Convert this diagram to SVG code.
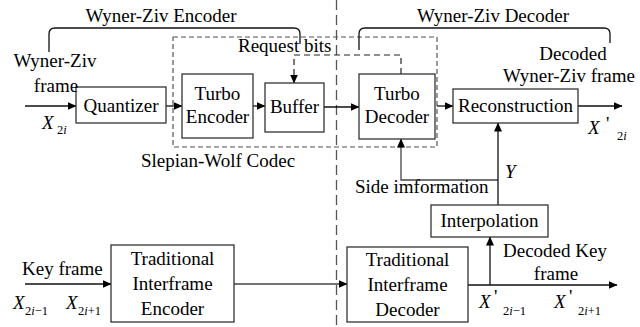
<svg xmlns="http://www.w3.org/2000/svg" width="640" height="327" viewBox="0 0 640 327">
<defs>
<marker id="ah" markerWidth="9" markerHeight="8" refX="8.5" refY="4" orient="auto" markerUnits="userSpaceOnUse">
<path d="M0,0 L9,4 L0,8 Z" fill="#000"/>
</marker>
<style>
text{font-family:'Liberation Serif','Times New Roman','DejaVu Serif',serif;font-size:19px;fill:#000}
.c{text-anchor:middle}
.it{font-style:italic}
.sub{font-size:12.5px}
.box{fill:#fff;stroke:#333;stroke-width:1.3}
.ln{fill:none;stroke:#111;stroke-width:1.3}
.gl{fill:none;stroke:#444;stroke-width:1.3}
.d1{fill:none;stroke:#555;stroke-width:1.2;stroke-dasharray:5,3}
.d2{fill:none;stroke:#222;stroke-width:1.2;stroke-dasharray:6,4}
.d3{fill:none;stroke:#555;stroke-width:1.3;stroke-dasharray:10,5}
</style>
</defs>
<rect width="640" height="327" fill="#fff"/>

<g id="dividers">
<line class="d3" x1="336.5" y1="0" x2="336.5" y2="327"/>
<rect id="slepian-wolf" class="d1" x="173" y="37" width="264" height="110"/>
</g>

<g id="braces">
<path class="ln" d="M49,52 V34 Q49,28 55,28 H294 Q300,28 300,34 V44"/>
<path class="ln" d="M359,50 V34 Q359,28 365,28 H604 Q610,28 610,34 V43"/>
</g>

<g id="connectors">
<line class="ln" x1="25" y1="106" x2="76" y2="106" marker-end="url(#ah)"/>
<line class="ln" x1="166" y1="106" x2="182" y2="106" marker-end="url(#ah)"/>
<line class="ln" x1="253" y1="106" x2="265" y2="106" marker-end="url(#ah)"/>
<line class="ln" x1="324" y1="107" x2="359" y2="107" marker-end="url(#ah)"/>
<line class="ln" x1="437" y1="106" x2="453" y2="106" marker-end="url(#ah)"/>
<line class="ln" x1="578" y1="106" x2="622" y2="106" marker-end="url(#ah)"/>
<path class="d2" d="M401,74 V55 H294 V83" marker-end="url(#ah)"/>
<path class="gl" d="M498,180 H401 V139" marker-end="url(#ah)"/>
<line class="ln" x1="498" y1="205" x2="498" y2="123" marker-end="url(#ah)"/>
<line class="ln" x1="490" y1="285" x2="490" y2="237" marker-end="url(#ah)"/>
<line class="ln" x1="25" y1="284" x2="111" y2="284" marker-end="url(#ah)"/>
<line class="gl" x1="234" y1="284" x2="347" y2="284" marker-end="url(#ah)"/>
<line class="ln" x1="468" y1="285" x2="617" y2="285" marker-end="url(#ah)"/>
</g>

<g id="quantizer"><rect class="box" x="76" y="87" width="90" height="36"/><text class="c" x="121" y="112">Quantizer</text></g>
<g id="turbo-encoder"><rect class="box" x="182" y="74" width="71" height="64"/><text class="c" x="217.5" y="100">Turbo</text><text class="c" x="217.5" y="123">Encoder</text></g>
<g id="buffer"><rect class="box" x="265" y="83" width="59" height="49"/><text class="c" x="294.5" y="113">Buffer</text></g>
<g id="turbo-decoder"><rect class="box" x="359" y="74" width="76" height="65"/><text class="c" x="397" y="100">Turbo</text><text class="c" x="397" y="123">Decoder</text></g>
<g id="reconstruction"><rect class="box" x="453" y="89" width="125" height="34"/><text class="c" x="515.5" y="112">Reconstruction</text></g>
<g id="interpolation"><rect class="box" x="431" y="205" width="117" height="32"/><text class="c" x="489.5" y="227">Interpolation</text></g>
<g id="trad-encoder"><rect class="box" x="111" y="245" width="123" height="77"/><text class="c" x="172.5" y="265">Traditional</text><text class="c" x="172.5" y="290">Interframe</text><text class="c" x="172.5" y="315">Encoder</text></g>
<g id="trad-decoder"><rect class="box" x="347" y="247" width="121" height="75"/><text class="c" x="407.5" y="266">Traditional</text><text class="c" x="407.5" y="291">Interframe</text><text class="c" x="407.5" y="316">Decoder</text></g>

<g id="labels">
<text class="c" x="161" y="22">Wyner-Ziv Encoder</text>
<text class="c" x="493" y="22">Wyner-Ziv Decoder</text>
<text x="238" y="52">Request bits</text>
<text class="c" x="55" y="67">Wyner-Ziv</text>
<text class="c" x="56" y="92">frame</text>
<text class="c" x="218" y="167">Slepian-Wolf Codec</text>
<text class="c" x="573" y="60">Decoded</text>
<text class="c" x="569" y="82">Wyner-Ziv frame</text>
<text x="355" y="193">Side imformation</text>
<text class="it" x="505" y="178">Y</text>
<text class="c" x="555" y="257">Decoded Key</text>
<text class="c" x="556" y="280">frame</text>
<text x="22" y="275">Key frame</text>
<text class="it" x="42" y="129">X</text><text class="sub" x="57" y="134">2<tspan class="it">i</tspan></text>
<text class="it" x="588" y="134">X</text><text x="606" y="130">'</text><text class="sub" x="617" y="140">2<tspan class="it">i</tspan></text>
<text class="it" x="13" y="309">X</text><text class="sub" x="25" y="315">2<tspan class="it">i</tspan>−1</text>
<text class="it" x="66" y="309">X</text><text class="sub" x="78" y="315">2<tspan class="it">i</tspan>+1</text>
<text class="it" x="479" y="308">X</text><text x="494" y="303">'</text><text class="sub" x="503" y="315">2<tspan class="it">i</tspan>−1</text>
<text class="it" x="554" y="308">X</text><text x="569" y="303">'</text><text class="sub" x="578" y="315">2<tspan class="it">i</tspan>+1</text>
</g>
</svg>
